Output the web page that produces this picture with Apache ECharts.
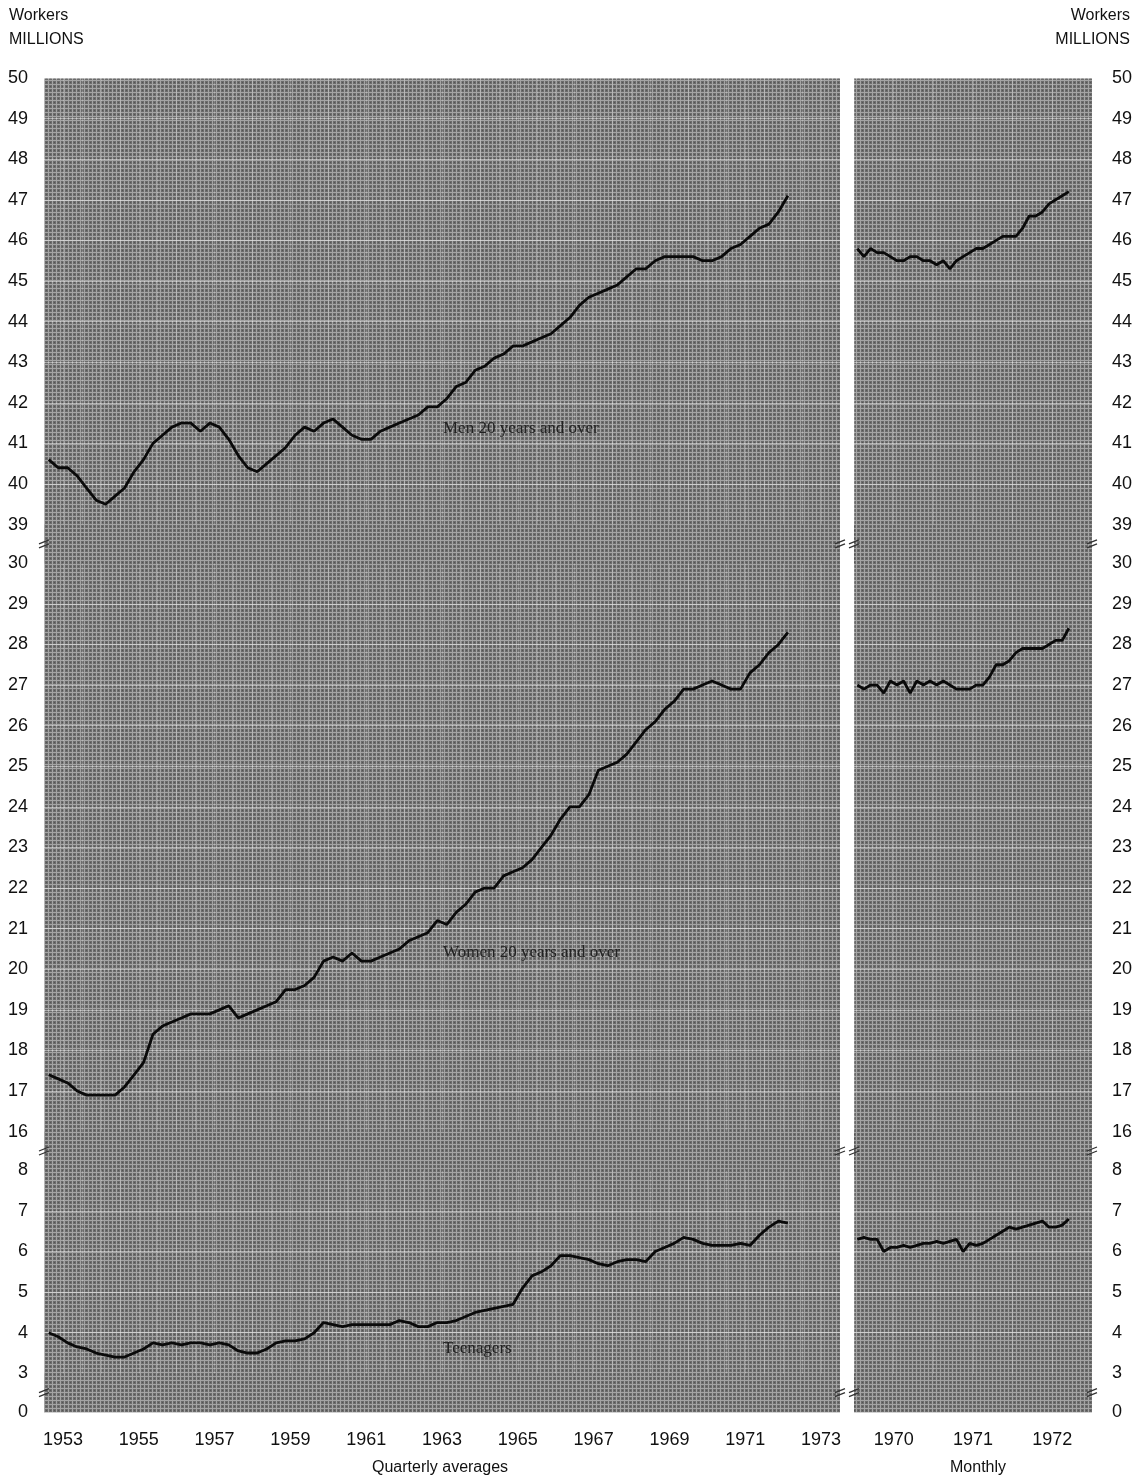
<!DOCTYPE html>
<html><head><meta charset="utf-8">
<script src="https://cdn.jsdelivr.net/npm/echarts@6/dist/echarts.min.js"></script>
<style>html,body{margin:0;padding:0;background:#fff}#c{width:1140px;height:1481px}</style>
</head><body><div id="c"></div>
<script>
// ---- data ----
const quarterFirstYear = 1953;   // first point = 1953 Q1
const monthFirstYear = 1970;     // first point = January 1970
const leftYearLabels = [1953,1955,1957,1959,1961,1963,1965,1967,1969,1971,1973];
const rightYearLabels = [1970,1971,1972];
const yBreaks = [[30,39],[8,16],[0,3]];

const menQ = [40.6,40.4,40.4,40.2,39.9,39.6,39.5,39.7,39.9,40.3,
  40.6,41.0,41.2,41.4,41.5,41.5,41.3,41.5,41.4,41.1,
  40.7,40.4,40.3,40.5,40.7,40.9,41.2,41.4,41.3,41.5,
  41.6,41.4,41.2,41.1,41.1,41.3,41.4,41.5,41.6,41.7,
  41.9,41.9,42.1,42.4,42.5,42.8,42.9,43.1,43.2,43.4,
  43.4,43.5,43.6,43.7,43.9,44.1,44.4,44.6,44.7,44.8,
  44.9,45.1,45.3,45.3,45.5,45.6,45.6,45.6,45.6,45.5,
  45.5,45.6,45.8,45.9,46.1,46.3,46.4,46.7,47.1];
const womenQ = [17.4,17.3,17.2,17.0,16.9,16.9,16.9,16.9,17.1,17.4,
  17.7,18.4,18.6,18.7,18.8,18.9,18.9,18.9,19.0,19.1,
  18.8,18.9,19.0,19.1,19.2,19.5,19.5,19.6,19.8,20.2,
  20.3,20.2,20.4,20.2,20.2,20.3,20.4,20.5,20.7,20.8,
  20.9,21.2,21.1,21.4,21.6,21.9,22.0,22.0,22.3,22.4,
  22.5,22.7,23.0,23.3,23.7,24.0,24.0,24.3,24.9,25.0,
  25.1,25.3,25.6,25.9,26.1,26.4,26.6,26.9,26.9,27.0,
  27.1,27.0,26.9,26.9,27.3,27.5,27.8,28.0,28.3];
const teenQ = [4.0,3.9,3.75,3.65,3.6,3.5,3.45,3.4,3.4,3.5,
  3.6,3.75,3.7,3.75,3.7,3.75,3.75,3.7,3.75,3.7,
  3.55,3.5,3.5,3.6,3.75,3.8,3.8,3.85,4.0,4.25,
  4.2,4.15,4.2,4.2,4.2,4.2,4.2,4.3,4.25,4.15,
  4.15,4.25,4.25,4.3,4.4,4.5,4.55,4.6,4.65,4.7,
  5.1,5.4,5.5,5.65,5.9,5.9,5.85,5.8,5.7,5.65,
  5.75,5.8,5.8,5.75,6.0,6.1,6.2,6.35,6.3,6.2,
  6.15,6.15,6.15,6.2,6.15,6.4,6.6,6.75,6.7];

const menM = [45.8,45.6,45.8,45.7,45.7,45.6,45.5,45.5,45.6,45.6,45.5,45.5,
  45.4,45.5,45.3,45.5,45.6,45.7,45.8,45.8,45.9,46.0,46.1,46.1,
  46.1,46.3,46.6,46.6,46.7,46.9,47.0,47.1,47.2];
const womenM = [27.0,26.9,27.0,27.0,26.8,27.1,27.0,27.1,26.8,27.1,27.0,27.1,
  27.0,27.1,27.0,26.9,26.9,26.9,27.0,27.0,27.2,27.5,27.5,27.6,
  27.8,27.9,27.9,27.9,27.9,28.0,28.1,28.1,28.4];
const teenM = [6.3,6.35,6.3,6.3,6.0,6.1,6.1,6.15,6.1,6.15,6.2,6.2,
  6.25,6.2,6.25,6.3,6.0,6.2,6.15,6.2,6.3,6.4,6.5,6.6,
  6.55,6.6,6.65,6.7,6.75,6.6,6.6,6.65,6.8];

// ---- build ----
const qPos = i => quarterFirstYear + (i + 0.5) / 4;   // mid-quarter
const mPos = i => monthFirstYear + (i + 0.5) / 12;    // mid-month
const toQ = arr => arr.map((v, i) => [qPos(i), v]);
const toM = arr => arr.map((v, i) => [mPos(i), v]);

function makePattern() {
  const c = document.createElement('canvas');
  c.width = 4; c.height = 4;
  const g = c.getContext('2d');
  g.fillStyle = '#6c6c6c'; g.fillRect(0, 0, 4, 4);
  g.fillStyle = '#a4a4a4'; g.fillRect(0, 0, 4, 1); g.fillRect(0, 0, 1, 4);
  g.fillStyle = '#555'; g.fillRect(2, 2, 1, 1);
  return c;
}
const bgPattern = { image: makePattern(), repeat: 'repeat' };

const FONT = 'Liberation Sans, Arial, sans-serif';
const breaks = yBreaks.map(b => ({ start: b[0], end: b[1], gap: '2.9%' }));

function xLabelFormatter(labels) {
  return v => {
    const y = Math.floor(v + 1e-9);
    if (Math.abs(v - y - 0.5) < 1e-6 && labels.indexOf(y) >= 0) return String(y);
    return '';
  };
}

function yAxisCfg(gridIndex, position) {
  return {
    type: 'value', gridIndex, position, min: 0, max: 50, interval: 1,
    breaks: breaks,
    breakArea: { show: true, itemStyle: { color: bgPattern, borderColor: 'rgba(0,0,0,0)', borderWidth: 0, opacity: 1 }, zigzagAmplitude: 0 },
    axisLine: { show: false }, axisTick: { show: false },
    axisLabel: { color: '#111', fontSize: 18, fontFamily: FONT, margin: position === 'left' ? 16 : 20 },
    splitLine: { show: true, lineStyle: { color: 'rgba(255,255,255,0.45)', width: 1 } }
  };
}
function xAxisCfg(gridIndex, min, max, labels) {
  return {
    type: 'value', gridIndex, min, max, interval: 0.5,
    axisLine: { show: false }, axisTick: { show: false },
    axisLabel: { color: '#111', fontSize: 18, fontFamily: FONT, margin: 19, formatter: xLabelFormatter(labels), showMaxLabel: false, showMinLabel: false },
    splitLine: { show: true, lineStyle: { color: 'rgba(255,255,255,0.22)', width: 1 } }
  };
}
function lineSeries(data, xi) {
  return {
    type: 'line', xAxisIndex: xi, yAxisIndex: xi, data, showSymbol: false, symbol: 'none',
    lineStyle: { color: '#0a0a0a', width: 2.8 }, silent: true
  };
}

const chart = echarts.init(document.getElementById('c'), null, { renderer: 'canvas' });
chart.setOption({
  animation: false,
  backgroundColor: '#fff',
  grid: [
    { left: 44, top: 78, width: 796, height: 1334, show: true, backgroundColor: bgPattern, borderWidth: 0 },
    { left: 854, top: 78, width: 238, height: 1334, show: true, backgroundColor: bgPattern, borderWidth: 0 }
  ],
  xAxis: [xAxisCfg(0, 1953, 1974, leftYearLabels), xAxisCfg(1, 1970, 1973, rightYearLabels)],
  yAxis: [yAxisCfg(0, 'left'), yAxisCfg(1, 'right')],
  series: [
    lineSeries(toQ(menQ), 0), lineSeries(toQ(womenQ), 0), lineSeries(toQ(teenQ), 0),
    lineSeries(toM(menM), 1), lineSeries(toM(womenM), 1), lineSeries(toM(teenM), 1)
  ]
});

// texts + small break marks at the panel edges (set together in one graphic list)
const txt = (pos, text, font, fill) => Object.assign({ type: 'text', silent: true, z: 100,
  style: { text, fill: fill || '#111', font: font || ('16px ' + FONT) } }, pos);
const serif = '17px Liberation Serif, serif';
const graphics = [
  txt({ left: 9, top: 8 }, 'Workers'),
  txt({ left: 9, top: 32 }, 'MILLIONS'),
  txt({ right: 10, top: 8 }, 'Workers'),
  txt({ right: 10, top: 32 }, 'MILLIONS'),
  txt({ left: 372, top: 1460 }, 'Quarterly averages'),
  txt({ left: 950, top: 1460 }, 'Monthly'),
  txt({ left: 443, top: 420 }, 'Men 20 years and over', serif, '#222'),
  txt({ left: 443, top: 944 }, 'Women 20 years and over', serif, '#222'),
  txt({ left: 443, top: 1340 }, 'Teenagers', serif, '#222')
];
const edgeXs = [44, 840, 854, 1092];
yBreaks.forEach(b => {
  const yA = chart.convertToPixel({ yAxisIndex: 0 }, b[0]);
  const yB = chart.convertToPixel({ yAxisIndex: 0 }, b[1]);
  const mid = (yA + yB) / 2;
  edgeXs.forEach(x => {
    [-2, 2].forEach(d => graphics.push({
      type: 'line', silent: true, z: 100,
      shape: { x1: x - 5, y1: mid + d + 2, x2: x + 5, y2: mid + d - 2 },
      style: { stroke: '#333', lineWidth: 1.2 }
    }));
  });
});
chart.setOption({ graphic: graphics });
</script></body></html>
